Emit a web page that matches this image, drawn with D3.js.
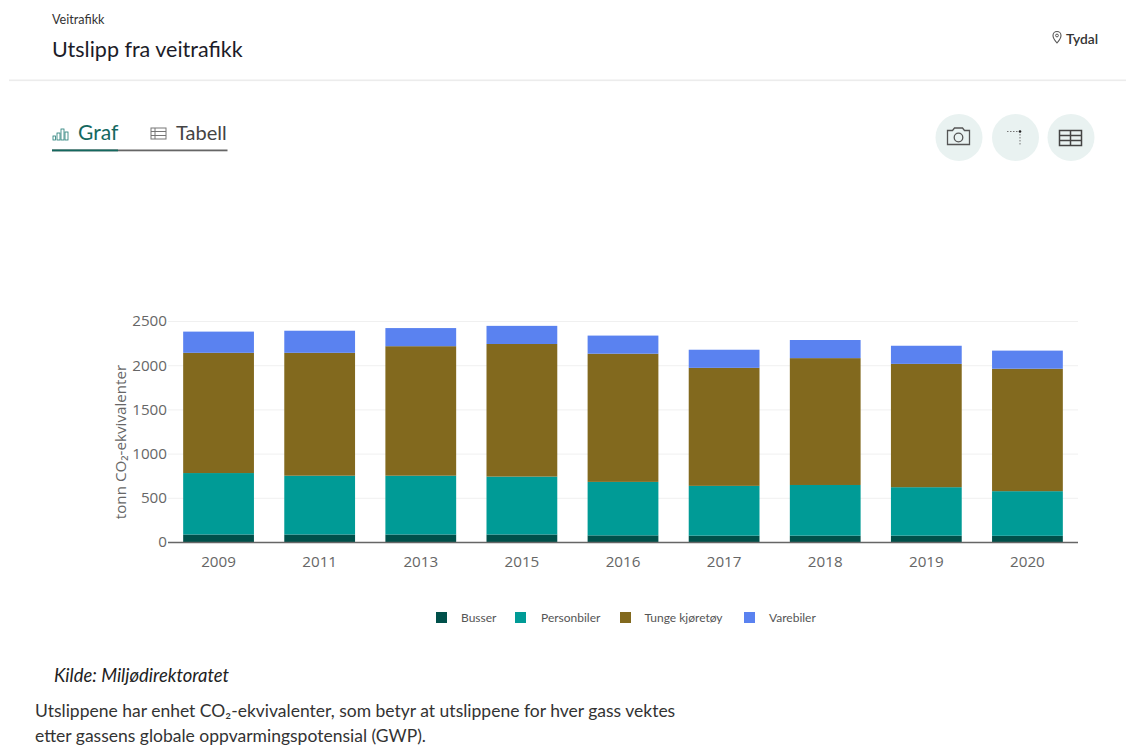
<!DOCTYPE html>
<html><head><meta charset="utf-8">
<script src="https://cdnjs.cloudflare.com/ajax/libs/d3/7.8.5/d3.min.js"></script>
<style>
html,body{margin:0;padding:0;background:#fff;overflow:hidden}
svg{display:block}
.ui{font-family:Lato,sans-serif}
</style></head><body>
<svg id="c" width="1126" height="746"></svg>
<script>
const years=["2009","2011","2013","2015","2016","2017","2018","2019","2020"];
const busser=[85,85,85,85,75,72,72,72,70];
const personbiler=[695,665,665,655,605,563,573,548,505];
const tungeKjoretoy=[1360,1390,1465,1500,1450,1335,1435,1395,1385];
const varebiler=[240,250,205,205,205,205,205,205,205];
const seriesNames=["Busser","Personbiler","Tunge kjøretøy","Varebiler"];
const seriesColors=["#00504a","#009b96","#82691e","#5a82f0"];
const yTicks=[0,500,1000,1500,2000,2500];

const svg=d3.select("#c");
const ui=svg.append("g").attr("class","ui");
const txt=(x,y,s,size,fill,extra={})=>{const t=ui.append("text").attr("x",x).attr("y",y).attr("font-size",size).attr("fill",fill).text(s);
 for(const k in extra)t.attr(k,extra[k]);return t;};
txt(52,24,"Veitrafikk",12.6,"#333");
txt(52,57,"Utslipp fra veitrafikk",21.5,"#1c1c28");
ui.append("rect").attr("x",9).attr("y",79.5).attr("width",1117).attr("height",1.6).attr("fill","#ececec");
// location
ui.append("path").attr("d","M1057 31.5a4 4 0 0 1 4 4c0 3-4 7.5-4 7.5s-4-4.5-4-7.5a4 4 0 0 1 4-4z").attr("fill","none").attr("stroke","#555").attr("stroke-width",1.1);
ui.append("circle").attr("cx",1057).attr("cy",35.5).attr("r",1.4).attr("fill","none").attr("stroke","#555");
txt(1066,43.5,"Tydal",13.8,"#333",{"font-weight":600});
// tabs
ui.selectAll(null).data([[53,136,2.5,4],[57,133,3,7],[61,129,3,11],[65,132,3,8]]).enter().append("rect")
 .attr("x",d=>d[0]).attr("y",d=>d[1]).attr("width",d=>d[2]).attr("height",d=>d[3]).attr("fill","none").attr("stroke","#1f7a74").attr("stroke-width",.8);
txt(78,140,"Graf",21,"#14685f");
const tb=ui.append("g").attr("fill","none").attr("stroke","#777").attr("stroke-width",1);
tb.append("rect").attr("x",151).attr("y",128).attr("width",15).attr("height",11);
tb.append("path").attr("d","M151 131.5H166M151 135.5H166M155 128V139");
txt(176,140,"Tabell",20,"#444");
ui.append("rect").attr("x",52).attr("y",149.5).attr("width",175.5).attr("height",1.8).attr("fill","#666");
ui.append("rect").attr("x",52).attr("y",149.5).attr("width",66).attr("height",1.8).attr("fill","#14685f");
// round buttons
[959,1015.5,1071].forEach(x=>ui.append("circle").attr("cx",x).attr("cy",137.5).attr("r",23.5).attr("fill","#e9f2f1"));
const cam=ui.append("g").attr("fill","none").attr("stroke","#555").attr("stroke-width",1.3);
cam.append("path").attr("d","M947.5 130.5h5l2-2.5h8l2 2.5h5v14h-22z");
cam.append("circle").attr("cx",958.5).attr("cy",137.5).attr("r",4.3);
ui.append("path").attr("d","M1007 131.5H1019M1020 134V146").attr("stroke","#777").attr("stroke-width",1).attr("stroke-dasharray","1.5 1.5").attr("fill","none");
ui.append("circle").attr("cx",1020).attr("cy",131.5).attr("r",1.3).attr("fill","#222");
const gr=ui.append("g").attr("fill","none").attr("stroke","#444").attr("stroke-width",1.5);
gr.append("rect").attr("x",1059.5).attr("y",130.5).attr("width",22).attr("height",15);
gr.append("path").attr("d","M1059.5 135.5H1081.5M1059.5 140.5H1081.5M1070.5 130.5V145.5");

// chart
const M={l:168,r:1078,t:321,b:542};
const x=d3.scaleBand().domain(years).range([M.l,M.r]).paddingInner(.3).paddingOuter(.15);
const y=d3.scaleLinear().domain([0,2500]).range([M.b,M.t]);
const rows=years.map((yr,i)=>({year:yr,Busser:busser[i],Personbiler:personbiler[i],"Tunge kjøretøy":tungeKjoretoy[i],Varebiler:varebiler[i]}));
const stack=d3.stack().keys(seriesNames)(rows);
const F="'Open Sans',sans-serif";
const ya=svg.append("g").attr("transform",`translate(${M.l},0)`).call(d3.axisLeft(y).tickValues(yTicks).tickFormat(d3.format("d")).tickSize(0).tickPadding(1));
ya.select(".domain").remove();
ya.selectAll("text").attr("font-family",F).attr("font-size",15.2).attr("fill","#666");
svg.append("g").selectAll("line").data(yTicks.filter(d=>d>0)).enter().append("line")
 .attr("x1",M.l).attr("x2",M.r).attr("y1",d=>y(d)+.5).attr("y2",d=>y(d)+.5).attr("stroke","#f0f0f0");
svg.append("g").selectAll("g").data(stack).enter().append("g").attr("fill",(d,i)=>seriesColors[i])
 .selectAll("rect").data(d=>d).enter().append("rect")
 .attr("x",d=>x(d.data.year)).attr("width",x.bandwidth())
 .attr("y",d=>y(d[1])).attr("height",d=>y(d[0])-y(d[1]));
svg.append("line").attr("x1",M.l).attr("x2",M.r).attr("y1",M.b+.5).attr("y2",M.b+.5).attr("stroke","#666").attr("stroke-width",1.3);
const xa=svg.append("g").attr("transform",`translate(0,${M.b})`).call(d3.axisBottom(x).tickSize(0).tickPadding(14));
xa.select(".domain").remove();
xa.selectAll("text").attr("font-family",F).attr("font-size",15.2).attr("fill","#666");
svg.append("text").attr("transform","translate(126,442) rotate(-90)").attr("text-anchor","middle")
 .attr("font-family",F).attr("font-size",15.2).attr("fill","#666").text("tonn CO₂-ekvivalenter");
// legend
const lx=[436,515,620,744], ltx=[461,541,644.5,769];
const lg=svg.append("g");
seriesNames.forEach((n,i)=>{
 lg.append("rect").attr("x",lx[i]).attr("y",612).attr("width",11).attr("height",11).attr("fill",seriesColors[i]);
 lg.append("text").attr("x",ltx[i]).attr("y",621.5).attr("font-family","Lato,sans-serif").attr("font-size",12).attr("fill","#555").text(n);
});
txt(54,682,"Kilde: Miljødirektoratet",18.4,"#222",{"font-style":"italic"});
txt(35,717,"Utslippene har enhet CO₂-ekvivalenter, som betyr at utslippene for hver gass vektes",17.5,"#333");
txt(35,742,"etter gassens globale oppvarmingspotensial (GWP).",17.5,"#333");
</script>
</body></html>
